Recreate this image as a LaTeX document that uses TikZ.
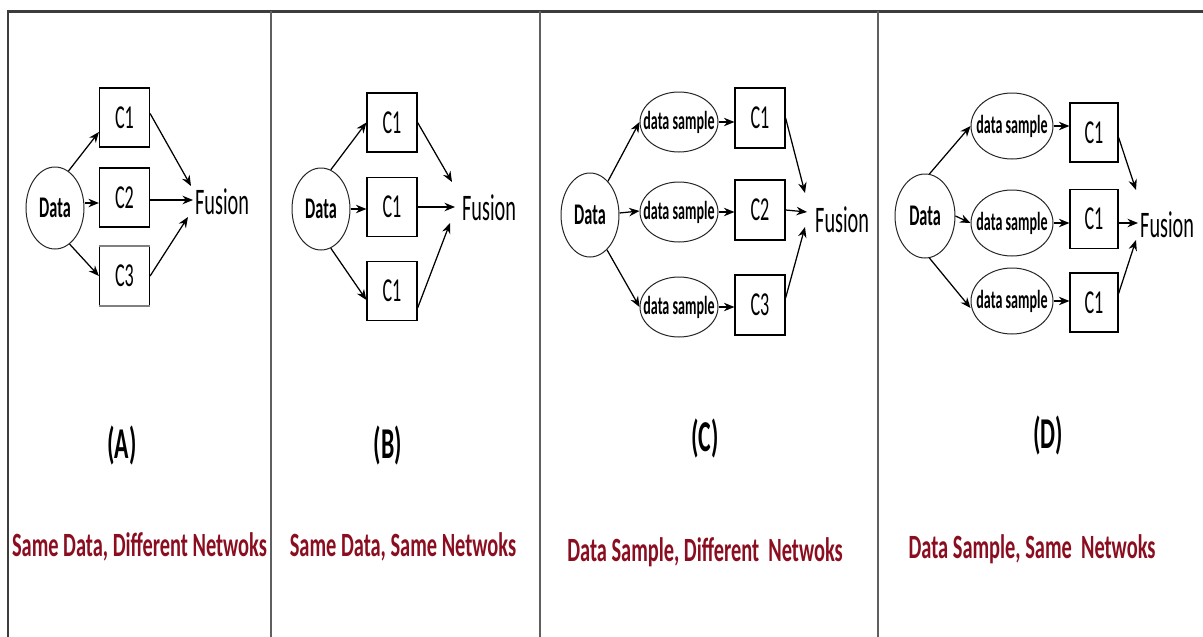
\documentclass[tikz,border=0pt]{standalone}
\usepackage{fontspec}
\usetikzlibrary{arrows.meta,shapes.geometric,calc}
\newfontfamily\dgfont[FakeStretch=0.54]{Carlito}
\newfontfamily\lblfont[FakeStretch=0.60]{Carlito}
\definecolor{labelred}{RGB}{139,14,32}
\definecolor{framegray}{RGB}{60,60,60}
\definecolor{rulegray}{RGB}{95,95,95}

\begin{document}
\begin{tikzpicture}[x=1pt,y=-1pt,
  box/.style={draw=black,line width=1.2pt,minimum width=50pt,minimum height=59pt,
    inner sep=0pt,font=\dgfont\fontsize{33.5}{34}\selectfont},
  src/.style={draw=black!85,ellipse,line width=1pt,minimum width=58pt,minimum height=82pt,
    inner sep=0pt,font=\dgfont\bfseries\fontsize{30}{31}\selectfont},
  smp/.style={draw=black!85,ellipse,line width=1pt,minimum width=78pt,minimum height=60pt,
    inner sep=0pt,font=\dgfont\bfseries\fontsize{26}{27}\selectfont},
  fus/.style={anchor=west,inner sep=0pt,font=\dgfont\fontsize{37.5}{38}\selectfont},
  arr/.style={-{Stealth[length=10.5pt,width=8.5pt]},line width=1.25pt},
  tag/.style={anchor=base,inner sep=0pt,font=\dgfont\bfseries\fontsize{44}{46}\selectfont},
  paneltitle/.style={anchor=base,inner sep=0pt,text=labelred,
    font=\lblfont\bfseries\fontsize{34}{36}\selectfont},
]
\useasboundingbox (0,0) rectangle (1203,637);
\fill[white] (0,0) rectangle (1203,637);

% frame and panel dividers
\draw[framegray,line width=3pt] (8,11) -- (1203,11);
\draw[framegray,line width=2pt] (8,10) -- (8,637);
\foreach \x in {271,540,878}
  \draw[rulegray,line width=1.8pt] (\x,11) -- (\x,637);

% ---------- panel A ----------
\node[src] (dA) at (55,208) {Data};
\node[box] (a1) at (124.5,117.5) {C1};
\node[box] (a2) at (124.5,197.5) {C2};
\node[box] (a3) at (124.5,276) {C3};
\draw[gray,line width=2.5pt] (a3.north west) -- (a3.north east);
\draw[gray,line width=2.5pt] (a3.south west) -- (a3.south east);
\node[fus] (fA) at (195,202) {Fusion};
\draw[arr] (dA.70) -- ([yshift=-14.5pt]a1.west);
\draw[arr] ([yshift=5pt]dA.east) -- ([yshift=-5.5pt]a2.west);
\draw[arr] (dA.-68) -- (a3.west);
\draw[arr] ([yshift=4pt]a1.east) -- ([xshift=-4pt,yshift=16pt]fA.west);
\draw[arr] ([yshift=-2.5pt]a2.east) -- ([xshift=-2pt,yshift=2pt]fA.west);
\draw[arr] (a3.east) -- ([xshift=-7pt,yshift=-15pt]fA.west);
\node[tag] (tA) at (122,458) {(A)};
\node[paneltitle] (lA) at (139.5,556) {Same Data, Different Netwoks};

% ---------- panel B ----------
\node[src] (dB) at (321,209) {Data};
\node[box] (b1) at (392,122.5) {C1};
\node[box] (b2) at (392,207) {C1};
\node[box] (b3) at (392,291) {C1};
\node[fus] (fB) at (462,208) {Fusion};
\draw[arr] (dB.76) -- (b1.west);
\draw[arr] (dB.east) -- ([yshift=-2pt]b2.west);
\draw[arr] (dB.-76) -- ([yshift=-9pt]b3.west);
\draw[arr] (b1.east) -- ([xshift=-10pt,yshift=26pt]fB.west);
\draw[arr] (b2.east) -- ([xshift=-7pt,yshift=1pt]fB.west);
\draw[arr] ([yshift=-17pt]b3.east) -- ([xshift=-12pt,yshift=-15pt]fB.west);
\node[tag] (tB) at (388,458) {(B)};
\node[paneltitle] (lB) at (403,556) {Same Data, Same Netwoks};

% ---------- panel C ----------
\node[src,minimum height=84pt] (dC) at (590,215) {Data};
\node[smp] (sC1) at (679,122) {\makebox[0pt]{data sample}};
\node[smp] (sC2) at (679,212) {\makebox[0pt]{data sample}};
\node[smp] (sC3) at (679,307) {\makebox[0pt]{data sample}};
\node[box,minimum height=60pt] (c1) at (760,118) {C1};
\node[box,minimum height=60pt] (c2) at (760,210) {C2};
\node[box,minimum height=60pt] (c3) at (760,305) {C3};
\node[fus] (fC) at (815,220) {Fusion};
\draw[arr] (dC.62) -- (sC1.west);
\draw[arr] ([yshift=2pt]dC.east) -- ([yshift=1pt]sC2.west);
\draw[arr] (dC.-64) -- (sC3.west);
\draw[arr] (sC1.east) -- (sC1.east -| c1.west);
\draw[arr] (sC2.east) -- (sC2.east -| c2.west);
\draw[arr] (sC3.east) -- (sC3.east -| c3.west);
\draw[arr] (c1.east) -- ([xshift=-10pt,yshift=27pt]fC.west);
\draw[arr] (c2.east) -- ([xshift=-8pt,yshift=8pt]fC.west);
\draw[arr] ([yshift=7pt]c3.east) -- ([xshift=-10pt,yshift=-7pt]fC.west);
\node[tag] (tC) at (705,451) {(C)};
\node[paneltitle] (lC) at (705,561) {Data Sample, Different~~Netwoks};

% ---------- panel D ----------
\node[src,minimum width=60pt,minimum height=84pt] (dD) at (925,216) {Data};
\node[smp,minimum width=82pt,minimum height=66pt] (sD1) at (1012,126) {\makebox[0pt]{data sample}};
\node[smp,minimum width=82pt,minimum height=66pt] (sD2) at (1012,223) {\makebox[0pt]{data sample}};
\node[smp,minimum width=82pt,minimum height=66pt] (sD3) at (1012,301) {\makebox[0pt]{data sample}};
\node[box,minimum width=48pt] (d1) at (1094,132.5) {C1};
\node[box,minimum width=48pt] (d2) at (1094,219) {C1};
\node[box,minimum width=48pt] (d3) at (1094,302.5) {C1};
\node[fus] (fD) at (1140,225) {Fusion};
\draw[arr] (dD.84) -- (sD1.west);
\draw[arr] (dD.east) -- (sD2.west);
\draw[arr] (dD.-84) -- ([yshift=-7pt]sD3.west);
\draw[arr] (sD1.east) -- (sD1.east -| d1.west);
\draw[arr] (sD2.east) -- (sD2.east -| d2.west);
\draw[arr] (sD3.east) -- (sD3.east -| d3.west);
\draw[arr] ([yshift=-5pt]d1.east) -- ([xshift=-4pt,yshift=35pt]fD.west);
\draw[arr] ([yshift=-4pt]d2.east) -- ([xshift=-2pt,yshift=2pt]fD.west);
\draw[arr] ([yshift=9pt]d3.east) -- ([xshift=-4pt,yshift=-15pt]fD.west);
\node[tag] (tD) at (1048,448) {(D)};
\node[paneltitle] (lD) at (1032,558) {Data Sample, Same~~Netwoks};
\end{tikzpicture}
\end{document}
